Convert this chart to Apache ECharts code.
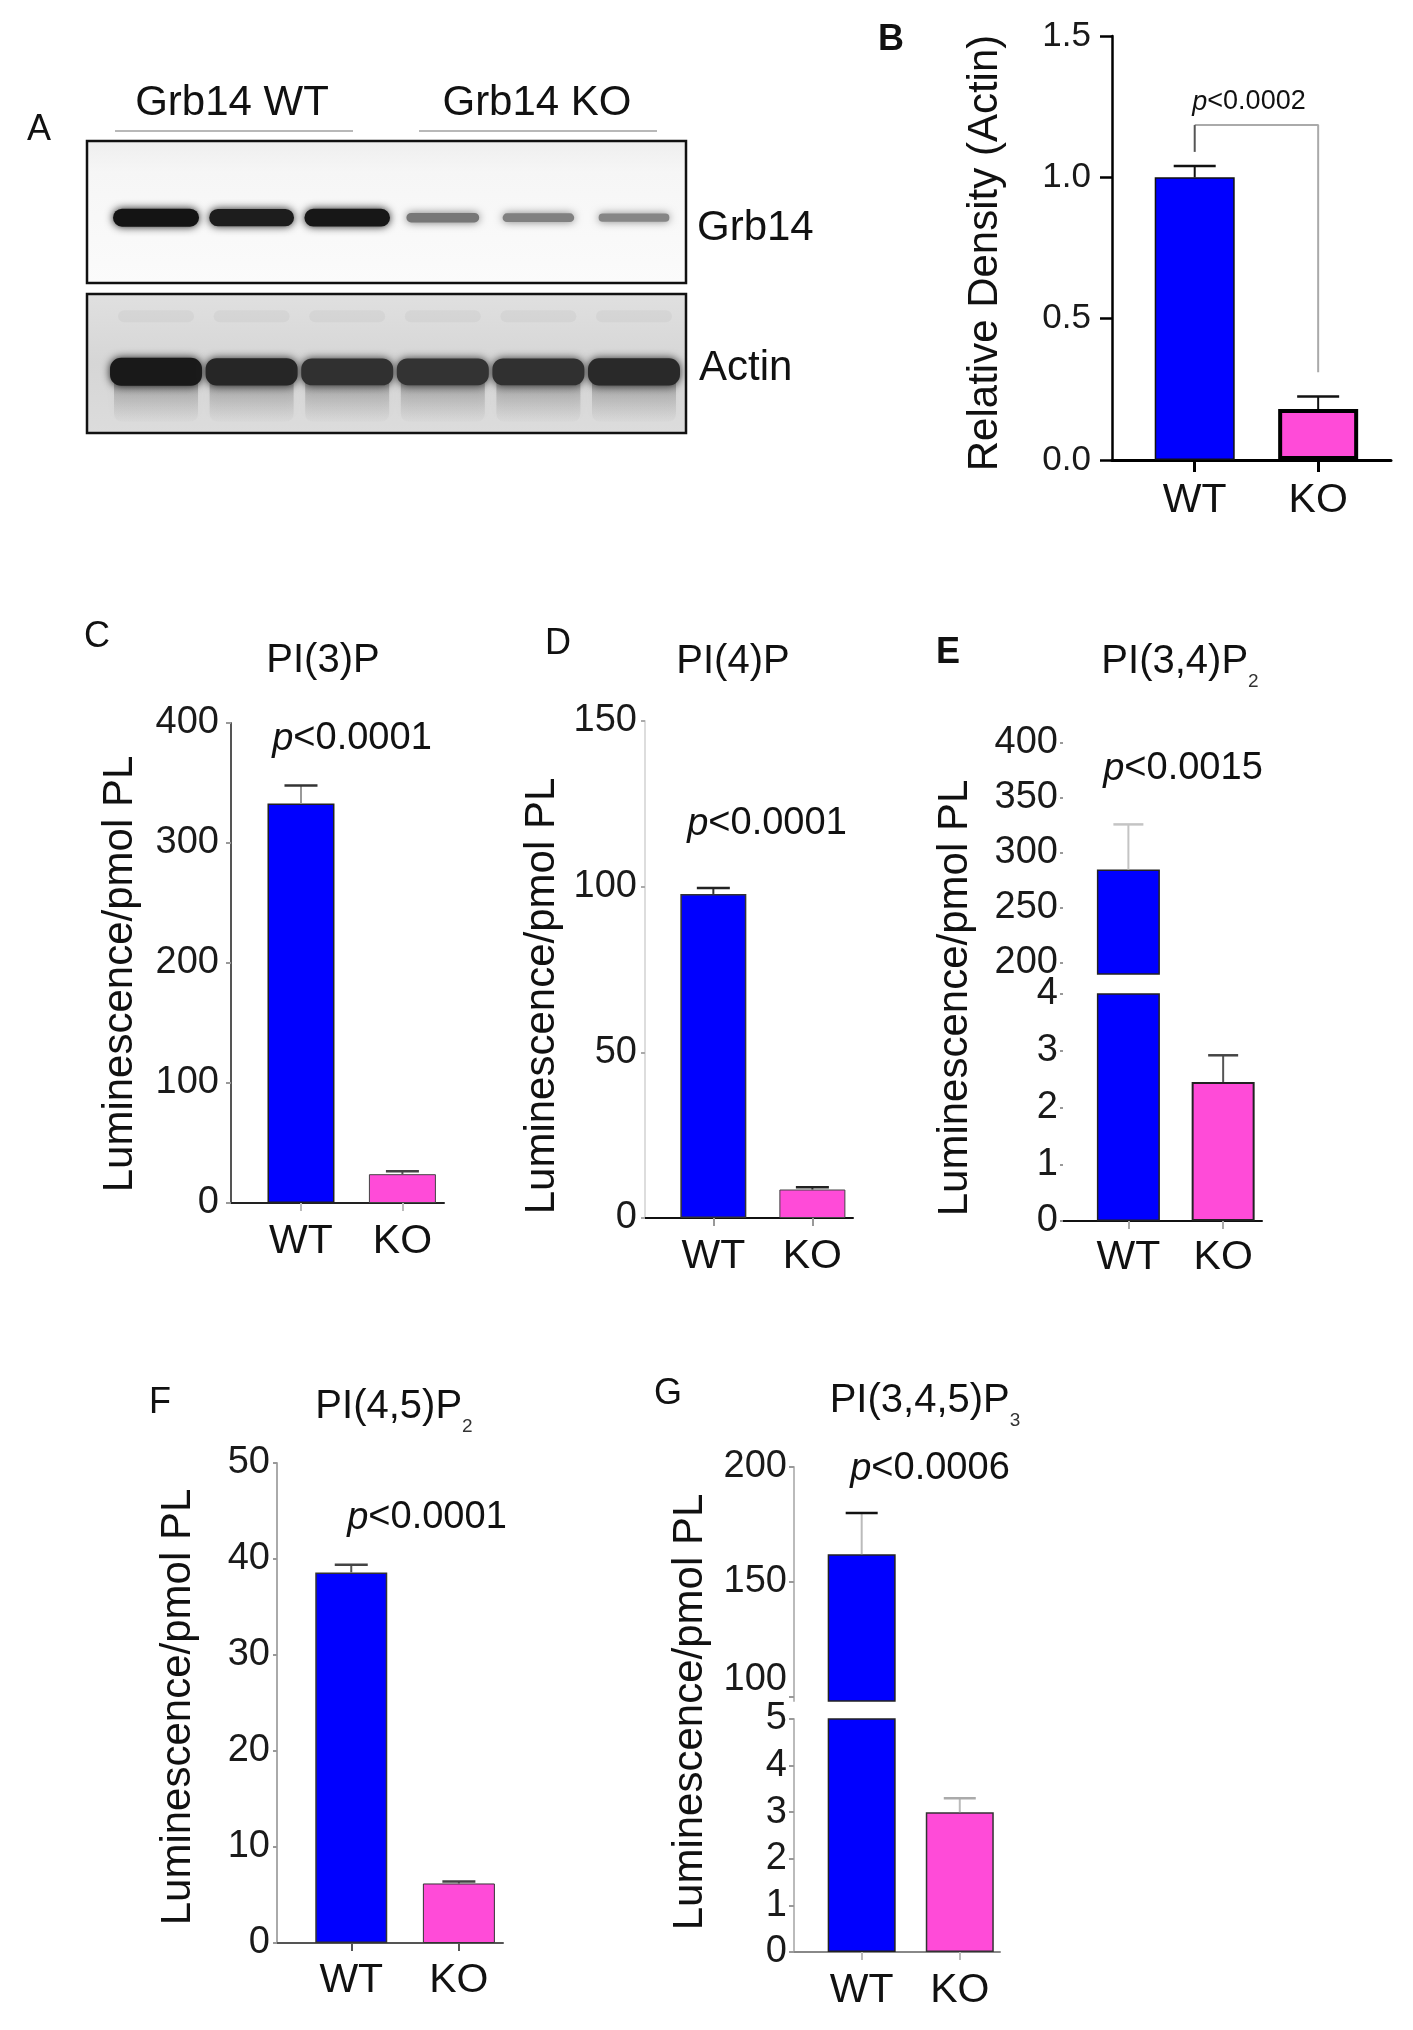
<!DOCTYPE html>
<html>
<head>
<meta charset="utf-8">
<title>Grb14 phosphoinositides</title>
<script src="https://cdn.jsdelivr.net/npm/echarts@6/dist/echarts.min.js"></script>
<style>
    html, body { margin: 0; background: #fff; }
    #chart { width: 1413px; height: 2030px; }
</style>
</head>
<body>
<div id="chart"></div>
<script>
    // ---- data ----
    const groups = ['WT', 'KO'];
    const groupPos = [1, 2];

    // western blot, relative band strength per lane (3 WT + 3 KO)
    const blotLanes = [1, 2, 3, 4, 5, 6];
    const grb14Band = [1.0, 0.94, 0.98, 0.34, 0.28, 0.24];
    const actinBand = [1.0, 0.9, 0.82, 0.8, 0.82, 0.88];

    // B relative density
    const densityMean = [1.0, 0.18];
    const densityErr = [0.04, 0.045];
    const densityTicks = [0, 0.5, 1.0, 1.5];
    const densityBracket = [[1, 1.09], [1, 1.185], [2, 1.185], [2, 0.31]];

    // C - G luminescence / pmol PL
    const pi3pMean = [333, 24];
    const pi3pErr = [15, 2.4];
    const pi3pTicks = [0, 100, 200, 300, 400];

    const pi4pMean = [97.8, 8.6];
    const pi4pErr = [1.8, 0.7];
    const pi4pTicks = [0, 50, 100, 150];

    const pi34p2Mean = [285, 2.45];
    const pi34p2Err = [41, 0.47];
    const pi34p2LowTicks = [0, 1, 2, 3, 4];
    const pi34p2HighTicks = [200, 250, 300, 350, 400];

    const pi45p2Mean = [38.6, 6.2];
    const pi45p2Err = [0.8, 0.2];
    const pi45p2Ticks = [0, 10, 20, 30, 40, 50];

    const pi345p3Mean = [162, 3.0];
    const pi345p3Err = [18, 0.3];
    const pi345p3LowTicks = [0, 1, 2, 3, 4, 5];
    const pi345p3HighTicks = [100, 150, 200];

    const pLabels = ['<0.0002', '<0.0001', '<0.0001', '<0.0015', '<0.0001', '<0.0006'];

    // ---- styles ----
    const FONT = '"Liberation Sans", Arial, Helvetica, sans-serif';
    const INK = '#111';
    const BLUE = '#0000ff';
    const PINK = '#ff4bd8';

    function groupAxis(gi, min, max, lineColor, lineWidth, tickColor, tickWidth, tickLen, margin) {
        return {
            gridIndex: gi, type: 'value', min: min, max: max,
            axisLine: { onZero: false, lineStyle: { color: lineColor, width: lineWidth } },
            axisTick: { customValues: groupPos, length: tickLen, lineStyle: { color: tickColor, width: tickWidth } },
            axisLabel: {
                customValues: groupPos, margin: margin, fontSize: 41, fontFamily: FONT, color: INK,
                formatter: function (v) { return groups[groupPos.indexOf(v)]; }
            },
            splitLine: { show: false }
        };
    }

    function hiddenAxis(gi, min, max) {
        return { gridIndex: gi, type: 'value', min: min, max: max, show: false };
    }

    function valueAxis(gi, ticks, o) {
        return {
            gridIndex: gi, type: 'value',
            min: o.min !== undefined ? o.min : ticks[0],
            max: o.max !== undefined ? o.max : ticks[ticks.length - 1],
            axisLine: { show: !!o.line, onZero: false, lineStyle: { color: o.line, width: o.lineWidth || 2 } },
            axisTick: { show: true, customValues: ticks, length: o.tickLen, lineStyle: { color: o.tick, width: o.tickWidth || 2 } },
            axisLabel: {
                customValues: ticks, margin: o.margin, fontSize: o.fontSize || 38, fontFamily: FONT,
                color: '#1a1a1a', formatter: o.formatter, rich: o.rich
            },
            splitLine: { show: false }
        };
    }

    function bars(gi, mean, idxs, width, borders) {
        return {
            type: 'bar', xAxisIndex: gi, yAxisIndex: gi, barWidth: width, clip: true,
            data: idxs.map(function (i) {
                return {
                    value: [groupPos[i], mean[i]],
                    itemStyle: { color: i === 0 ? BLUE : PINK, borderColor: borders[i][0], borderWidth: borders[i][1] }
                };
            })
        };
    }

    // error bar (upper half only) : stem + cap
    function errBars(gi, mean, err, idxs, stemColor, capColor, capW) {
        return {
            type: 'custom', xAxisIndex: gi, yAxisIndex: gi, z: 4,
            data: idxs.map(function (i) { return [groupPos[i], mean[i], err[i]]; }),
            renderItem: function (params, api) {
                const x = api.value(0), m = api.value(1), e = api.value(2);
                const a = api.coord([x, m]);
                const b = api.coord([x, m + e]);
                return {
                    type: 'group', children: [
                        { type: 'line', shape: { x1: a[0], y1: a[1], x2: b[0], y2: b[1] }, style: { stroke: stemColor, lineWidth: 2 } },
                        { type: 'line', shape: { x1: b[0] - capW / 2, y1: b[1], x2: b[0] + capW / 2, y2: b[1] }, style: { stroke: capColor, lineWidth: 2.5 } }
                    ]
                };
            }
        };
    }

    function text(str, x, y, size, extra) {
        const st = Object.assign({ text: str, fontSize: size, fontFamily: FONT, fill: INK, align: 'center', verticalAlign: 'middle' }, extra || {});
        return { type: 'text', x: x, y: y, style: st };
    }

    function vText(str, x, y, size) {
        const t = text(str, x, y, size);
        t.rotation = Math.PI / 2;
        return t;
    }

    function pText(p, x, y, size) {
        return text('{i|p}{n|' + p + '}', x, y, size, {
            rich: {
                i: { fontSize: size, fontFamily: FONT, fontStyle: 'italic', fill: INK },
                n: { fontSize: size, fontFamily: FONT, fill: INK }
            }
        });
    }

    function subTitle(main, sub, x, y) {
        return text('{n|' + main + '}{s|' + sub + '}', x, y, 40, {
            rich: {
                n: { fontSize: 40, fontFamily: FONT, fill: INK, lineHeight: 58, verticalAlign: 'middle' },
                s: { fontSize: 19, fontFamily: FONT, fill: '#333', lineHeight: 19, verticalAlign: 'bottom' }
            }
        });
    }

    const chart = echarts.init(document.getElementById('chart'));

    const option = {
        animation: false,
        backgroundColor: '#fff',
        textStyle: { fontFamily: FONT, color: INK },
        grid: [
            {
                left: 87, top: 141, width: 599, height: 142, show: true, borderColor: '#111', borderWidth: 2.5,
                backgroundColor: { type: 'linear', x: 0, y: 0, x2: 0, y2: 1, colorStops: [
                    { offset: 0, color: '#eeeeee' }, { offset: 0.22, color: '#f6f6f6' }, { offset: 1, color: '#fbfbfb' }] }
            },
            {
                left: 87, top: 294, width: 599, height: 139, show: true, borderColor: '#111', borderWidth: 2.5,
                backgroundColor: { type: 'linear', x: 0, y: 0, x2: 0, y2: 1, colorStops: [
                    { offset: 0, color: '#e0e0e0' }, { offset: 0.5, color: '#d6d6d6' }, { offset: 1, color: '#dcdcdc' }] }
            },
            { left: 1112, top: 36, width: 279, height: 424 },
            { left: 231, top: 723, width: 213, height: 480 },
            { left: 645, top: 721, width: 208, height: 497 },
            { left: 1063, top: 743, width: 199, height: 231 },
            { left: 1063, top: 994, width: 199, height: 227 },
            { left: 277, top: 1463, width: 226, height: 480 },
            { left: 794, top: 1467, width: 206, height: 234 },
            { left: 794, top: 1719, width: 206, height: 233 }
        ],
        xAxis: [
            hiddenAxis(0, 0.278, 6.544),
            hiddenAxis(1, 0.278, 6.544),
            groupAxis(2, 0.33, 2.59, '#000', 3, '#000', 3, 12, 20),
            groupAxis(3, 0.31, 2.41, '#222', 2, '#bbb', 2, 8, 18),
            groupAxis(4, 0.31, 2.41, '#111', 2, '#999', 2, 8, 18),
            hiddenAxis(5, 0.31, 2.41),
            groupAxis(6, 0.31, 2.41, '#111', 2, '#aaa', 2, 8, 16),
            groupAxis(7, 0.31, 2.41, '#555', 2, '#555', 2, 8, 17),
            hiddenAxis(8, 0.31, 2.41),
            groupAxis(9, 0.31, 2.41, '#888', 2, '#bbb', 2, 8, 18)
        ],
        yAxis: [
            hiddenAxis(0, 0, 1),
            hiddenAxis(1, 0, 1),
            valueAxis(2, densityTicks, {
                line: '#000', lineWidth: 2.5, tick: '#000', tickWidth: 2.5, tickLen: 12, margin: 21, fontSize: 35,
                formatter: function (v) { return v.toFixed(1); }
            }),
            valueAxis(3, pi3pTicks, { line: '#555', tick: '#999', tickLen: 5, margin: 12 }),
            valueAxis(4, pi4pTicks, { line: '#dddddd', tick: '#aaa', tickLen: 4, margin: 8 }),
            valueAxis(5, pi34p2HighTicks, { min: 190, line: null, tick: '#999', tickLen: 3, margin: 5 }),
            valueAxis(6, pi34p2LowTicks, { line: null, tick: '#999', tickLen: 3, margin: 5 }),
            valueAxis(7, pi45p2Ticks, { line: '#aaa', tick: '#999', tickLen: 4, margin: 7 }),
            valueAxis(8, pi345p3HighTicks, {
                min: 98, line: '#bbb', tick: '#999', tickLen: 5, margin: 7,
                formatter: function (v) { return v === pi345p3HighTicks[0] ? '{lift|' + v + '}' : String(v); },
                rich: { lift: { fontSize: 38, fontFamily: FONT, color: '#1a1a1a', padding: [0, 0, 34, 0] } }
            }),
            valueAxis(9, pi345p3LowTicks, { line: '#bbb', tick: '#999', tickLen: 5, margin: 7 })
        ],
        series: [
            // A: Grb14 blot
            {
                type: 'custom', xAxisIndex: 0, yAxisIndex: 0,
                data: blotLanes.map(function (l, i) { return [l, grb14Band[i]]; }),
                renderItem: function (params, api) {
                    const c = api.coord([api.value(0), 0.46]);
                    const k = api.value(1);
                    const w = 66 + 20 * k, h = 5 + 13 * k;
                    const g = Math.round(20 + (1 - k) * 150);
                    const col = 'rgb(' + g + ',' + g + ',' + g + ')';
                    return {
                        type: 'rect',
                        shape: { x: c[0] - w / 2, y: c[1] - h / 2, width: w, height: h, r: h / 2 },
                        style: { fill: col, shadowBlur: 9, shadowColor: col }
                    };
                }
            },
            // A: actin blot
            {
                type: 'custom', xAxisIndex: 1, yAxisIndex: 1,
                data: blotLanes.map(function (l, i) { return [l, actinBand[i]]; }),
                renderItem: function (params, api) {
                    const c = api.coord([api.value(0), 0.44]);
                    const ghost = api.coord([api.value(0), 0.84]);
                    const k = api.value(1);
                    const w = 92, h = 22 + 6 * k;
                    const g = Math.round(25 + (1 - k) * 130);
                    const col = 'rgb(' + g + ',' + g + ',' + g + ')';
                    return {
                        type: 'group', children: [
                            { type: 'rect', shape: { x: ghost[0] - w / 2 + 8, y: ghost[1] - 6, width: w - 16, height: 12, r: 6 },
                              style: { fill: 'rgba(0,0,0,0.035)', shadowBlur: 10, shadowColor: 'rgba(0,0,0,0.035)' } },
                            { type: 'rect', shape: { x: c[0] - w / 2 + 4, y: c[1], width: w - 8, height: 50, r: 8 },
                              style: {
                                  fill: { type: 'linear', x: 0, y: 0, x2: 0, y2: 1, colorStops: [
                                      { offset: 0, color: 'rgba(40,40,40,0.55)' },
                                      { offset: 0.45, color: 'rgba(70,70,70,0.22)' },
                                      { offset: 1, color: 'rgba(110,110,110,0.02)' }] },
                                  shadowBlur: 10, shadowColor: 'rgba(80,80,80,0.25)'
                              } },
                            { type: 'rect', shape: { x: c[0] - w / 2, y: c[1] - h / 2, width: w, height: h, r: h / 2.5 },
                              style: { fill: col, shadowBlur: 8, shadowColor: col } }
                        ]
                    };
                }
            },

            // B
            bars(2, densityMean, [0, 1], 80, [['#111', 1.5], ['#000', 4]]),
            errBars(2, densityMean, densityErr, [0, 1], '#111', '#111', 42),
            {
                type: 'line', xAxisIndex: 2, yAxisIndex: 2, symbol: 'none', z: 3,
                data: densityBracket.slice(1), lineStyle: { color: '#aaa', width: 2 }
            },
            {
                type: 'line', xAxisIndex: 2, yAxisIndex: 2, symbol: 'none', z: 3,
                data: densityBracket.slice(0, 2), lineStyle: { color: '#555', width: 2 }
            },

            // C
            bars(3, pi3pMean, [0, 1], 67, [['#222', 1.5], ['#444', 1]]),
            errBars(3, pi3pMean, pi3pErr, [0], '#999', '#333', 33),
            errBars(3, pi3pMean, pi3pErr, [1], '#555', '#444', 33),

            // D
            bars(4, pi4pMean, [0, 1], 66, [['#333', 1.5], ['#444', 1]]),
            errBars(4, pi4pMean, pi4pErr, [0, 1], '#333', '#222', 33),

            // E (broken axis)
            bars(5, pi34p2Mean, [0], 63, [['#222', 1.5], ['#222', 1.5]]),
            errBars(5, pi34p2Mean, pi34p2Err, [0], '#c4c4c4', '#c4c4c4', 30),
            bars(6, pi34p2Mean, [0, 1], 63, [['#222', 1.5], ['#222', 2]]),
            errBars(6, pi34p2Mean, pi34p2Err, [1], '#555', '#444', 30),

            // F
            bars(7, pi45p2Mean, [0, 1], 72, [['#333', 1.5], ['#333', 1]]),
            errBars(7, pi45p2Mean, pi45p2Err, [0, 1], '#555', '#444', 33),

            // G (broken axis)
            bars(8, pi345p3Mean, [0], 68, [['#222', 1.5], ['#222', 1.5]]),
            errBars(8, pi345p3Mean, pi345p3Err, [0], '#bbb', '#111', 32),
            bars(9, pi345p3Mean, [0, 1], 68, [['#222', 1.5], ['#333', 1.5]]),
            errBars(9, pi345p3Mean, pi345p3Err, [1], '#bbb', '#aaa', 32)
        ],
        graphic: [
            // panel letters
            text('A', 39, 130, 36),
            text('B', 891, 40, 36, { fontWeight: 'bold' }),
            text('C', 97, 637, 36),
            text('D', 558, 644, 36),
            text('E', 948, 653, 36, { fontWeight: 'bold' }),
            text('F', 160, 1403, 36),
            text('G', 668, 1394, 36),

            // blot labels
            text('Grb14 WT', 232, 103, 42),
            text('Grb14 KO', 537, 103, 42),
            { type: 'line', shape: { x1: 115, y1: 131, x2: 353, y2: 131 }, style: { stroke: '#b8b8b8', lineWidth: 2 } },
            { type: 'line', shape: { x1: 419, y1: 131, x2: 657, y2: 131 }, style: { stroke: '#b8b8b8', lineWidth: 2 } },
            text('Grb14', 697, 228, 42, { align: 'left' }),
            text('Actin', 699, 368, 42, { align: 'left' }),

            // panel titles
            text('PI(3)P', 323, 661, 40),
            text('PI(4)P', 733, 662, 40),
            subTitle('PI(3,4)P', '2', 1180, 662),
            subTitle('PI(4,5)P', '2', 394, 1407),
            subTitle('PI(3,4,5)P', '3', 925, 1401),

            // p values
            pText(pLabels[0], 1249, 102, 27),
            pText(pLabels[1], 352, 739, 38),
            pText(pLabels[2], 767, 824, 38),
            pText(pLabels[3], 1183, 769, 38),
            pText(pLabels[4], 427, 1518, 38),
            pText(pLabels[5], 930, 1469, 38),

            // y axis titles
            vText('Relative Density (Actin)', 985, 253, 42),
            vText('Luminescence/pmol PL', 120, 974, 42),
            vText('Luminescence/pmol PL', 542, 996, 42),
            vText('Luminescence/pmol PL', 955, 998, 42),
            vText('Luminescence/pmol PL', 178, 1707, 42),
            vText('Luminescence/pmol PL', 690, 1712, 42)
        ]
    };

    chart.setOption(option);
</script>
</body>
</html>
